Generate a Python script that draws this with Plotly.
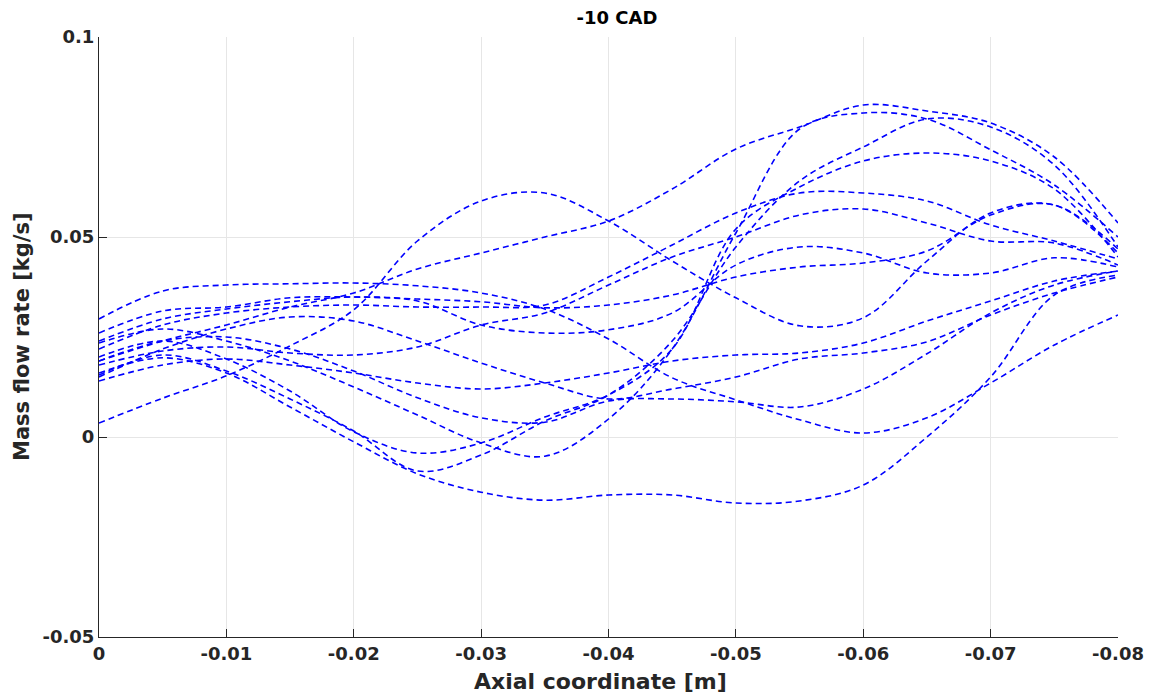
import plotly.graph_objects as go

# Axial positions (m)
x_pos = [0, -0.005, -0.01, -0.015, -0.02, -0.025, -0.03, -0.035, -0.04,
         -0.045, -0.05, -0.055, -0.06, -0.065, -0.07, -0.075, -0.08]

# Mass flow rate series (kg/s)
s_a  = [0.0035, 0.0097, 0.0153, 0.0228, 0.0318, 0.049, 0.059, 0.061, 0.054, 0.044, 0.0348, 0.0278, 0.0298, 0.044, 0.056, 0.058, 0.047]
s_l  = [0.016, 0.0198, 0.016, 0.0075, -0.0012, -0.0092, -0.0138, -0.0158, -0.0145, -0.0145, -0.0165, -0.016, -0.012, 0.0, 0.015, 0.0355, 0.0405]
s_t  = [0.0295, 0.0365, 0.038, 0.0383, 0.0385, 0.0378, 0.036, 0.032, 0.0245, 0.0148, 0.0093, 0.0043, 0.001, 0.0048, 0.0135, 0.023, 0.0305]
s_b  = [0.019, 0.024, 0.028, 0.0325, 0.036, 0.042, 0.046, 0.050, 0.054, 0.062, 0.072, 0.0775, 0.083, 0.0815, 0.0785, 0.070, 0.0535]
s_e  = [0.0235, 0.027, 0.024, 0.019, 0.0125, 0.0055, -0.0015, -0.0048, 0.0045, 0.022, 0.051, 0.077, 0.081, 0.0795, 0.0718, 0.063, 0.050]
s_d2 = [0.0155, 0.0205, 0.0165, 0.0095, 0.0015, -0.0085, -0.0045, 0.004, 0.0105, 0.024, 0.0475, 0.064, 0.0725, 0.0795, 0.0775, 0.068, 0.0475]
s_d1 = [0.020, 0.024, 0.0195, 0.0115, 0.0013, -0.004, -0.0015, 0.005, 0.0105, 0.022, 0.052, 0.0625, 0.069, 0.071, 0.069, 0.062, 0.045]
s_h1 = [0.022, 0.028, 0.031, 0.0325, 0.033, 0.0325, 0.0325, 0.033, 0.040, 0.048, 0.056, 0.061, 0.061, 0.059, 0.053, 0.049, 0.0445]
s_h2 = [0.018, 0.0215, 0.0225, 0.021, 0.0205, 0.0225, 0.028, 0.031, 0.038, 0.045, 0.050, 0.0555, 0.057, 0.0535, 0.049, 0.0485, 0.043]
s_k  = [0.024, 0.0295, 0.032, 0.0338, 0.035, 0.034, 0.028, 0.026, 0.0268, 0.031, 0.043, 0.0475, 0.046, 0.041, 0.041, 0.0448, 0.0425]
s_g  = [0.026, 0.0315, 0.0325, 0.0348, 0.035, 0.0345, 0.0338, 0.0323, 0.033, 0.0355, 0.040, 0.0425, 0.0435, 0.0465, 0.0555, 0.058, 0.046]
s_f  = [0.019, 0.024, 0.025, 0.022, 0.0165, 0.0098, 0.0048, 0.0037, 0.009, 0.0095, 0.0088, 0.0075, 0.012, 0.0208, 0.031, 0.038, 0.0415]
s_u1 = [0.014, 0.018, 0.0195, 0.018, 0.016, 0.0135, 0.012, 0.0135, 0.016, 0.019, 0.0205, 0.021, 0.0235, 0.029, 0.034, 0.039, 0.0415]
s_u2 = [0.015, 0.022, 0.027, 0.030, 0.029, 0.024, 0.0185, 0.0135, 0.0095, 0.012, 0.015, 0.0195, 0.021, 0.0238, 0.0305, 0.036, 0.040]

series = [s_a, s_l, s_t, s_b, s_e, s_d2, s_d1, s_h1, s_h2, s_k, s_g, s_f, s_u1, s_u2]

x_tickvals = [0, -0.01, -0.02, -0.03, -0.04, -0.05, -0.06, -0.07, -0.08]
x_ticktext = ["0", "-0.01", "-0.02", "-0.03", "-0.04", "-0.05", "-0.06", "-0.07", "-0.08"]
y_tickvals = [-0.05, 0, 0.05, 0.1]
y_ticktext = ["-0.05", "0", "0.05", "0.1"]

fig = go.Figure()
for s in series:
    fig.add_trace(go.Scatter(
        x=x_pos, y=s, mode="lines",
        line=dict(color="#0000FF", width=1.6, dash="6px,4px", shape="spline", smoothing=1.0),
        showlegend=False, hoverinfo="skip",
    ))

font_family = "DejaVu Sans"
ink = "#262626"
fig.update_layout(
    width=1153, height=695,
    margin=dict(l=99, r=35, t=37, b=58, autoexpand=False),
    paper_bgcolor="white", plot_bgcolor="white",
    title=dict(text="<b>-10 CAD</b>", x=617 / 1153, xanchor="center",
               y=1 - 18 / 695, yanchor="middle",
               font=dict(family=font_family, size=18, color="#000000")),
    font=dict(family=font_family, color=ink),
    annotations=[
        dict(text="<b>Axial coordinate [m]</b>", xref="paper", yref="paper",
             x=(600 - 99) / 1019, y=-(681 - 637) / 600, xanchor="center", yanchor="middle",
             showarrow=False, font=dict(size=22, color=ink, family=font_family)),
        dict(text="<b>Mass flow rate [kg/s]</b>", xref="paper", yref="paper",
             x=-(99 - 22) / 1019, y=0.5, xanchor="center", yanchor="middle", textangle=-90,
             showarrow=False, font=dict(size=21, color=ink, family=font_family)),
    ],
)
fig.update_xaxes(
    range=[0, -0.08], tickvals=x_tickvals, ticktext=[f"<b>{t}</b>" for t in x_ticktext],
    tickfont=dict(size=18, color=ink, family=font_family),
    showgrid=True, gridcolor="#E6E6E6", gridwidth=1,
    showline=True, linecolor=ink, linewidth=1,
    ticks="inside", ticklen=8, tickcolor=ink,
    zeroline=False, automargin=False,
)
fig.update_yaxes(
    range=[-0.05, 0.1], tickvals=y_tickvals, ticktext=[f"<b>{t}</b>" for t in y_ticktext],
    tickfont=dict(size=18, color=ink, family=font_family),
    showgrid=True, gridcolor="#E6E6E6", gridwidth=1,
    showline=True, linecolor=ink, linewidth=1,
    ticks="inside", ticklen=8, tickcolor=ink,
    zeroline=False, automargin=False,
)

fig.write_html("out.html")
